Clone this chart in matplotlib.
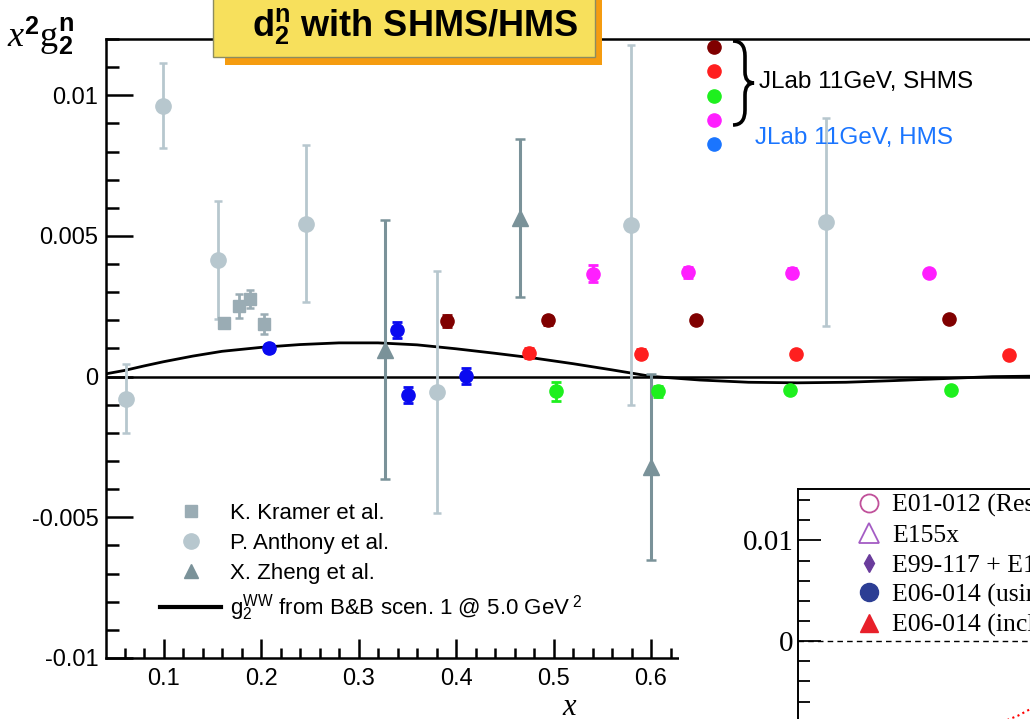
import matplotlib
matplotlib.use("Agg")
import matplotlib.pyplot as plt
from matplotlib.ticker import MultipleLocator, FuncFormatter
from matplotlib.patches import Rectangle, PathPatch
from matplotlib.path import Path
from matplotlib.lines import Line2D

plt.rcParams['font.family'] = ['Liberation Sans', 'DejaVu Sans']
plt.rcParams['mathtext.fontset'] = 'custom'
plt.rcParams['mathtext.rm'] = 'Liberation Serif'
plt.rcParams['mathtext.it'] = 'Liberation Serif:italic'
plt.rcParams['mathtext.bf'] = 'Liberation Sans:bold'
plt.rcParams['mathtext.sf'] = 'Liberation Sans'

W, H = 1030, 719


def fx(p):
    return p / W


def fy(p):
    return 1 - p / H


# ---- data ----
kramer_x = [0.162, 0.177, 0.189, 0.203]
kramer_y = [0.0019, 0.0025, 0.00276, 0.00187]
kramer_e = [0.00015, 0.00042, 0.00033, 0.00036]

anthony_x = [0.0615, 0.099, 0.156, 0.246, 0.380, 0.579, 0.779]
anthony_y = [-0.00078, 0.00963, 0.00415, 0.00544, -0.00054, 0.0054, 0.0055]
anthony_e = [0.00123, 0.0015, 0.0021, 0.0028, 0.0043, 0.0064, 0.0037]

zheng_x = [0.327, 0.466, 0.600]
zheng_y = [0.00096, 0.00564, -0.0032]
zheng_e = [0.0046, 0.0028, 0.0033]

shms_brown_x = [0.391, 0.494, 0.646, 0.906]
shms_brown_y = [0.00198, 0.00200, 0.00203, 0.00205]
shms_brown_e = [0.00020, 0.00016, 0.00008, 0.00004]

shms_red_x = [0.475, 0.590, 0.749, 0.967]
shms_red_y = [0.00084, 0.00082, 0.00082, 0.00077]
shms_red_e = [0.00018, 0.00015, 0.00010, 0.00004]

shms_green_x = [0.503, 0.607, 0.743, 0.908]
shms_green_y = [-0.00052, -0.00052, -0.00046, -0.00046]
shms_green_e = [0.00033, 0.00020, 0.00010, 0.00004]

shms_magenta_x = [0.540, 0.638, 0.745, 0.885]
shms_magenta_y = [0.00366, 0.00371, 0.00370, 0.00370]
shms_magenta_e = [0.00030, 0.00020, 0.00015, 0.00004]

hms_x = [0.2085, 0.339, 0.351, 0.410]
hms_y = [0.00102, 0.00165, -0.00066, 0.00003]
hms_e = [0.00015, 0.00028, 0.00028, 0.00028]

ww_x = [0.041, 0.06, 0.08, 0.10, 0.13, 0.16, 0.20, 0.24, 0.28, 0.32, 0.36, 0.40,
        0.44, 0.48, 0.52, 0.56, 0.60, 0.65, 0.70, 0.75, 0.80, 0.85, 0.90, 0.95, 1.0]
ww_y = [0.0001, 0.00022, 0.00038, 0.00053, 0.00073, 0.0009, 0.00104, 0.00114, 0.0012,
        0.0012, 0.00113, 0.00099, 0.00083, 0.00066, 0.00046, 0.00024, 0.00001,
        -0.00012, -0.0002, -0.00022, -0.0002, -0.00014, -0.00007, 0.0, 0.00002]

inset_labels = ['E01-012 (Resonance)', 'E155x', 'E99-117 + E155x',
                'E06-014 (using g1)', 'E06-014 (including elastic)']
inset_curve_x = [0.40, 0.44, 0.47, 0.50]
inset_curve_y = [-0.0082, -0.0074, -0.0066, -0.0058]

c_anthony = '#b7c7ce'
c_kramer = '#9aacb4'
c_zheng = '#7a9299'
c_brown = '#800000'
c_red = '#ff1f1f'
c_green = '#1ef01e'
c_magenta = '#ff1fff'
c_hms = '#0a0af0'
c_hms_leg = '#1a75ff'

fig = plt.figure(figsize=(10.3, 7.19), dpi=100)
ax = fig.add_axes([fx(106), fy(658), fx(1041) - fx(106), (658 - 39) / H])
ax.set_xlim(0.041, 1.0)
ax.set_ylim(-0.01, 0.012)

for s in ['left', 'bottom', 'top']:
    ax.spines[s].set_linewidth(1.8)
ax.spines['right'].set_visible(False)

fmt = FuncFormatter(lambda v, p: '0' if abs(v) < 1e-12 else '%g' % v)
ax.xaxis.set_major_locator(MultipleLocator(0.1))
ax.xaxis.set_minor_locator(MultipleLocator(0.02))
ax.yaxis.set_major_locator(MultipleLocator(0.005))
ax.yaxis.set_minor_locator(MultipleLocator(0.001))
ax.xaxis.set_major_formatter(fmt)
ax.yaxis.set_major_formatter(fmt)
ax.tick_params(which='both', direction='in', top=False, right=False, width=1.8,
               labelsize=17)
ax.tick_params(axis='y', which='major', length=19.5, pad=5.5)
ax.tick_params(axis='y', which='minor', length=9.5)
ax.tick_params(axis='x', which='major', length=14, pad=7)
ax.tick_params(axis='x', which='minor', length=7)

ax.axhline(0, color='black', lw=1.8, zorder=2)
ax.plot(ww_x, ww_y, color='black', lw=2, zorder=2)

ax.errorbar(anthony_x, anthony_y, yerr=anthony_e, fmt='o', ms=11, color=c_anthony,
            elinewidth=2, capsize=3, capthick=1.8, zorder=3)
ax.errorbar(kramer_x, kramer_y, yerr=kramer_e, fmt='s', ms=8, color=c_kramer,
            elinewidth=2, capsize=3, capthick=1.8, zorder=4)
ax.errorbar(zheng_x, zheng_y, yerr=zheng_e, fmt='^', ms=11, color=c_zheng,
            elinewidth=2.2, capsize=3.5, capthick=1.8, zorder=4)

for xs, ys, es, c in [(shms_brown_x, shms_brown_y, shms_brown_e, c_brown),
                      (shms_red_x, shms_red_y, shms_red_e, c_red),
                      (shms_green_x, shms_green_y, shms_green_e, c_green),
                      (shms_magenta_x, shms_magenta_y, shms_magenta_e, c_magenta),
                      (hms_x, hms_y, hms_e, c_hms)]:
    ax.errorbar(xs, ys, yerr=es, fmt='o', ms=9.5, color=c, elinewidth=2,
                capsize=3.5, capthick=2, zorder=5)

# lower-left legend
handles = [Line2D([], [], marker='s', ls='none', color=c_kramer, ms=8),
           Line2D([], [], marker='o', ls='none', color=c_anthony, ms=11),
           Line2D([], [], marker='^', ls='none', color=c_zheng, ms=10),
           Line2D([], [], color='black', lw=3)]
labels = ['K. Kramer et al.', 'P. Anthony et al.', 'X. Zheng et al.',
          r'$\mathsf{g}_{\mathsf{2}}^{\mathsf{WW}}$ from B&B scen. 1 @ 5.0 GeV$^{\ \mathsf{2}}$']
fig.legend(handles, labels, loc='upper left', bbox_to_anchor=(fx(160), fy(503)),
           frameon=False, fontsize=16, handlelength=2.75, handletextpad=0.4,
           labelspacing=0.4, borderpad=0, borderaxespad=0)

# JLab legend (top right)
jl_handles = [Line2D([], [], marker='o', ls='none', color=c, ms=9.5)
              for c in [c_brown, c_red, c_green, c_magenta, c_hms_leg]]
fig.legend(jl_handles, [''] * 5, loc='upper left', bbox_to_anchor=(fx(704), fy(41)),
           frameon=False, fontsize=12, handlelength=1.2, handletextpad=0,
           labelspacing=0.55, borderpad=0, borderaxespad=0)
brace = Path([(733, 41), (745, 41), (745, 56), (745, 72), (745, 83), (754, 83),
              (745, 83), (745, 95), (745, 110), (745, 125), (733, 125)],
             [Path.MOVETO, Path.CURVE3, Path.CURVE3, Path.LINETO, Path.CURVE3,
              Path.CURVE3, Path.CURVE3, Path.CURVE3, Path.LINETO, Path.CURVE3,
              Path.CURVE3])
brace = Path([(fx(px), fy(py)) for px, py in brace.vertices], brace.codes)
fig.add_artist(PathPatch(brace, fc='none', ec='black', lw=2.6,
                         transform=fig.transFigure, zorder=6))
fig.text(fx(759), fy(82), 'JLab 11GeV, SHMS', fontsize=17.5, va='center')
fig.text(fx(755), fy(138), 'JLab 11GeV, HMS', fontsize=17.5, va='center',
         color=c_hms_leg)

# title box
fig.add_artist(Rectangle((fx(225), fy(65)), fx(602) - fx(225), 70 / H,
                         transform=fig.transFigure, fc='#f59c10', ec='none', zorder=6))
fig.add_artist(Rectangle((fx(213), fy(57)), fx(595) - fx(213), 62 / H,
                         transform=fig.transFigure, fc='#f7e05c', ec='#8c8c60',
                         lw=1, zorder=7))
fig.text(fx(415), fy(27), r'$\mathbf{d}_{\mathbf{2}}^{\mathbf{n}}$ with SHMS/HMS',
         fontsize=26, fontweight='bold', ha='center', va='center', zorder=8)

# axis labels
fig.text(fx(7), fy(36), r'$\mathit{x}^{\mathbf{2}}\mathrm{g}_{\mathbf{2}}^{\mathbf{n}}$',
         fontsize=26, va='center')
fig.text(fx(570), fy(707), r'$\mathit{x}$', fontsize=22, ha='center', va='center')

# inset (overlapping figure, bottom right)
fig.add_artist(Rectangle((fx(679), 0), 1 - fx(679), (719 - 484) / H,
                         transform=fig.transFigure, fc='white', ec='none', zorder=1))
ins = fig.add_axes([fx(798), fy(760), 500 / W, 271 / H], zorder=3)
ins.set_xlim(0, 1)
ins.set_ylim(-0.0118, 0.0151)
ins.spines['left'].set_linewidth(1.4)
ins.spines['top'].set_linewidth(1.4)
ins.spines['right'].set_visible(False)
ins.spines['bottom'].set_visible(False)
ins.set_xticks([])
ins.set_yticks([0, 0.01])
ins.set_yticklabels(['0', '0.01'])
ins.yaxis.set_minor_locator(MultipleLocator(0.002))
ins.tick_params(axis='y', which='both', direction='in', width=1.3, labelsize=21,
                pad=3)
ins.tick_params(axis='y', which='major', length=16.5)
ins.tick_params(axis='y', which='minor', length=8.5)
for t in ins.get_yticklabels():
    t.set_family('Liberation Serif')
ins.axhline(0, color='black', lw=1, ls=(0, (4, 3)))
ins.plot(inset_curve_x, inset_curve_y, ls=':', color='red', lw=1.5)

ins_handles = [Line2D([], [], marker='o', ls='none', mfc='none', mec='#c0509a', mew=1.3, ms=13),
               Line2D([], [], marker='^', ls='none', mfc='none', mec='#a45cc4', mew=1.3, ms=14),
               Line2D([], [], marker='d', ls='none', color='#6a3c9c', ms=9),
               Line2D([], [], marker='o', ls='none', color='#2c3e94', ms=13),
               Line2D([], [], marker='^', ls='none', color='#e8202a', ms=13)]
ins.legend(ins_handles, inset_labels, loc='upper left',
           bbox_to_anchor=(fx(856), fy(494)), bbox_transform=fig.transFigure,
           frameon=False, prop={'family': 'Liberation Serif', 'size': 18.5},
           handlelength=1.0, handletextpad=0.42, labelspacing=0.26,
           borderpad=0, borderaxespad=0)

fig.savefig('out.png', dpi=100)
